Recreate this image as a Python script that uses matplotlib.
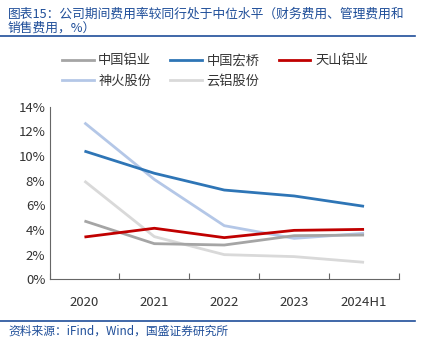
import matplotlib.pyplot as plt
from matplotlib.lines import Line2D

plt.rcParams['font.family'] = ['Noto Sans CJK SC', 'DejaVu Sans']

# data (%)
years = ["2020", "2021", "2022", "2023", "2024H1"]
chalco = [4.73, 2.89, 2.78, 3.54, 3.59]       # 中国铝业
hongqiao = [10.4, 8.6, 7.24, 6.76, 5.92]      # 中国宏桥
tianshan = [3.43, 4.14, 3.38, 3.97, 4.05]     # 天山铝业
shenhuo = [12.7, 8.1, 4.35, 3.32, 3.73]       # 神火股份
yunlv = [7.97, 3.46, 2.0, 1.84, 1.38]         # 云铝股份

names = ["中国铝业", "中国宏桥", "天山铝业", "神火股份", "云铝股份"]
series = [chalco, hongqiao, tianshan, shenhuo, yunlv]
colors = ["#A5A5A5", "#2E75B6", "#C00000", "#B4C7E7", "#D9D9D9"]

W, H = 425, 352
fig = plt.figure(figsize=(W / 100, H / 100), dpi=100)
ax = fig.add_axes([49.5 / W, 1 - 279.3 / H, (399 - 49.5) / W, (279.3 - 106.7) / H])

x = range(len(years))
# draw order: light ones first, like the original
for i in [4, 3, 0, 2, 1]:
    ax.plot(x, series[i], color=colors[i], lw=2.0, solid_capstyle="butt")

ax.set_xlim(-0.5, len(years) - 0.5)
ax.set_ylim(0, 14)
ax.set_yticks(range(0, 15, 2))
ax.set_yticklabels([f"{v}%" for v in range(0, 15, 2)], fontsize=9.5, color="#333333")
ax.set_xticks([i - 0.5 for i in range(len(years) + 1)], minor=False)
ax.set_xticklabels([])
ax.set_xticks(list(x), minor=True)
ax.set_xticklabels(years, minor=True, fontsize=9.5, color="#333333")
ax.tick_params(axis="x", which="major", length=4, direction="in", color="#666666")
ax.tick_params(axis="x", which="minor", length=0, pad=12)
ax.tick_params(axis="y", length=0, pad=3)
for s in ["top", "right"]:
    ax.spines[s].set_visible(False)
ax.spines["left"].set_color("#666666")
ax.spines["bottom"].set_color("#666666")
ax.spines["left"].set_linewidth(0.8)
ax.spines["bottom"].set_linewidth(0.8)

# legend, reordered so that it fills row by row
order = [0, 3, 1, 4, 2]
handles = [Line2D([], [], color=colors[i], lw=2.0) for i in order]
fig.legend(handles, [names[i] for i in order], ncol=3, loc="upper left",
           bbox_to_anchor=(50 / W, 1 - 42.5 / H), frameon=False, fontsize=9.5,
           handlelength=2.4, columnspacing=1.45, labelspacing=0.55,
           handletextpad=0.35, labelcolor="#333333")

# title and source
blue = "#1F4E99"
fig.text(8 / W, 1 - 14 / H, "图表15：公司期间费用率较同行处于中位水平（财务费用、管理费用和",
         fontsize=9.2, color=blue, style="italic", va="center")
fig.text(8 / W, 1 - 28 / H, "销售费用，%）", fontsize=9.2, color=blue, style="italic", va="center")
fig.add_artist(Line2D([0, 415 / W], [1 - 35.5 / H, 1 - 35.5 / H], color=blue, lw=1.2))
fig.add_artist(Line2D([0, 415 / W], [1 - 320.5 / H, 1 - 320.5 / H], color=blue, lw=1.2))
fig.text(8 / W, 1 - 331 / H, "资料来源：iFind，Wind，国盛证券研究所", fontsize=8.5,
         color=blue, style="italic", va="center")

fig.savefig("out.png", dpi=100)
